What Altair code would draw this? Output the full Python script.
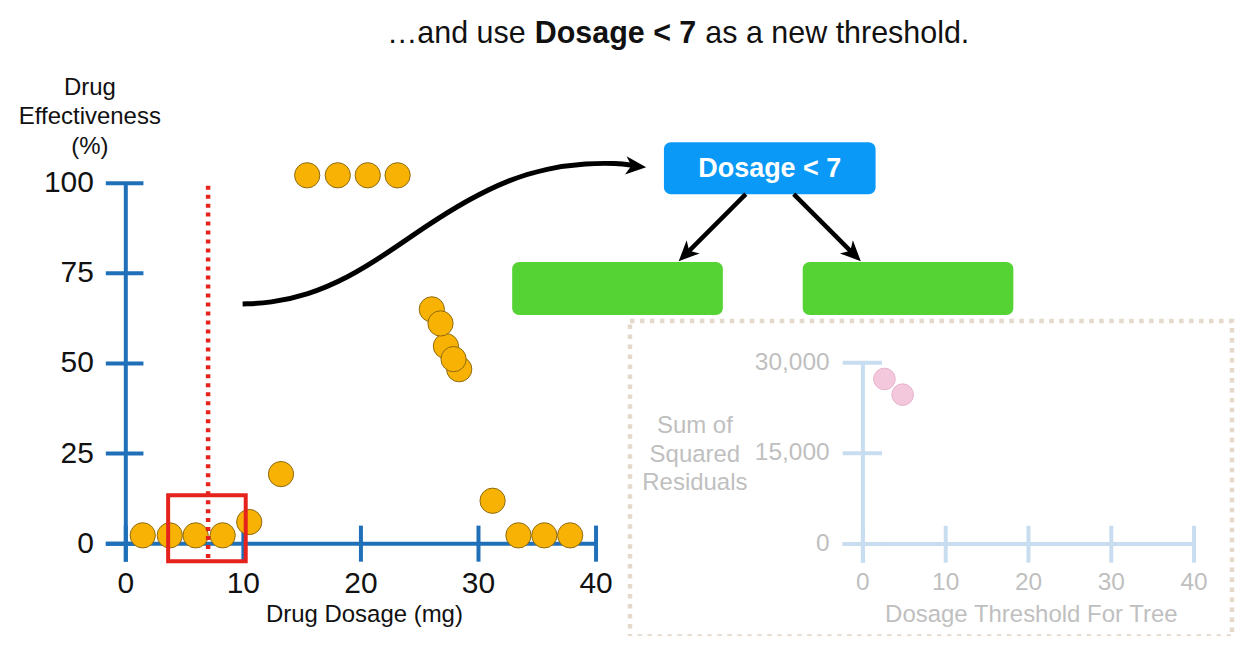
import altair as alt
import pandas as pd

# ---------------- data ----------------
dosage = [1.44, 3.74, 5.94, 8.24, 10.5, 13.2, 15.43, 18.03, 20.58, 23.12,
          26.03, 27.23, 28.36, 26.77, 27.88, 31.2, 33.4, 35.6, 37.8]
effectiveness = [2.3, 2.3, 2.3, 2.3, 6.0, 19.3, 102.2, 102.2, 102.2, 102.2,
                 65.0, 54.8, 48.4, 61.1, 51.2, 11.9, 2.3, 2.3, 2.3]
x_ticks = [0, 10, 20, 30, 40]
y_ticks = [0, 25, 50, 75, 100]
threshold = 7

ssr_thresholds = [2.6, 4.8]
ssr_values = [27300, 24700]
ssr_x_ticks = [0, 10, 20, 30, 40]
ssr_y_ticks = [0, 15000, 30000]

title_parts = ["\u2026and use", "Dosage < 7", "as a new threshold."]
node_label = "Dosage < 7"

# ---------------- styles ----------------
FONT = "Liberation Sans"
ORANGE, ORANGE_EDGE = "#F8B203", "#8E6A12"
AXIS_BLUE = "#1F70B8"
RED = "#E5221C"
NODE_BLUE = "#0A99F6"
LEAF_GREEN = "#55D334"
FADED_AXIS = "#C8DDEF"
FADED_TEXT = "#BFBFBF"
PINK, PINK_EDGE = "#F3C8DD", "#E6B3CA"
BORDER = "#E4D9CB"
ARROW = "M 1 0 L -1 -0.9 L -0.45 0 L -1 0.9 Z"

W, H = 1229, 628
MX = alt.Scale(domain=[0, 40], range=[118, 589], nice=False, zero=False)
MY = alt.Scale(domain=[0, 100], range=[536, 175], nice=False, zero=False)
IX = alt.Scale(domain=[0, 40], range=[856.3, 1188], nice=False, zero=False)
IY = alt.Scale(domain=[0, 30000], range=[536.3, 354.7], nice=False, zero=False)
PX = alt.Scale(domain=[0, W], range=[0, W], nice=False, zero=False)
PY = alt.Scale(domain=[0, H], range=[0, H], nice=False, zero=False)

one = pd.DataFrame({"k": [0]})
layers = []

# ---------------- inset (faded) ----------------
layers.append(alt.Chart(one).mark_rect(fillOpacity=0, stroke=BORDER, strokeWidth=4.5,
                                       strokeDash=[4.5, 5.5]).encode(
    x=alt.value(623), x2=alt.value(1226), y=alt.value(313), y2=alt.value(629)))

inset_rules = pd.DataFrame(
    [dict(x=0, x2=0, y=-3100, y2=30000), dict(x=-2.45, x2=40, y=0, y2=0)]
    + [dict(x=-2.45, x2=2.3, y=t, y2=t) for t in ssr_y_ticks]
    + [dict(x=t, x2=t, y=-3100, y2=3000) for t in ssr_x_ticks])
layers.append(alt.Chart(inset_rules).mark_rule(color=FADED_AXIS, strokeWidth=4).encode(
    x=alt.X("x:Q", scale=IX, axis=None), x2="x2:Q",
    y=alt.Y("y:Q", scale=IY, axis=None), y2="y2:Q"))

layers.append(alt.Chart(pd.DataFrame({"t": ssr_thresholds, "s": ssr_values})).mark_circle(
    size=470, color=PINK, stroke=PINK_EDGE, strokeWidth=1, opacity=1).encode(
    x=alt.X("t:Q", scale=IX, axis=None), y=alt.Y("s:Q", scale=IY, axis=None)))

layers.append(alt.Chart(pd.DataFrame({"y": ssr_y_ticks})).mark_text(
    align="right", baseline="middle", font=FONT, fontSize=24.5, color=FADED_TEXT).encode(
    x=alt.value(823), y=alt.Y("y:Q", scale=IY, axis=None), text=alt.Text("y:Q", format=",")))

layers.append(alt.Chart(pd.DataFrame({"x": ssr_x_ticks})).mark_text(
    align="center", baseline="middle", font=FONT, fontSize=24.5, color=FADED_TEXT).encode(
    x=alt.X("x:Q", scale=IX, axis=None), y=alt.value(575), text=alt.Text("x:Q")))

inset_titles = pd.DataFrame({"txt": ["Sum of", "Squared", "Residuals", "Dosage Threshold For Tree"],
                             "px": [688, 688, 688, 1025], "py": [418, 447, 475, 607]})
layers.append(alt.Chart(inset_titles).mark_text(
    align="center", baseline="middle", font=FONT, fontSize=24, color=FADED_TEXT).encode(
    x=alt.X("px:Q", scale=PX, axis=None), y=alt.Y("py:Q", scale=PY, axis=None), text="txt:N"))

# ---------------- tree ----------------
boxes = pd.DataFrame({"x": [657, 505, 796], "x2": [869, 716, 1007],
                      "y": [134, 254, 254], "y2": [186, 307, 307],
                      "c": [NODE_BLUE, LEAF_GREEN, LEAF_GREEN]})
layers.append(alt.Chart(boxes).mark_rect(cornerRadius=7).encode(
    x=alt.X("x:Q", scale=PX, axis=None), x2="x2:Q",
    y=alt.Y("y:Q", scale=PY, axis=None), y2="y2:Q",
    color=alt.Color("c:N", scale=None)))

layers.append(alt.Chart(one).mark_text(
    align="center", baseline="middle", font=FONT, fontSize=27, fontWeight="bold",
    color="white").encode(x=alt.value(763), y=alt.value(161), text=alt.value(node_label)))

tree_lines = pd.DataFrame({"x": [739, 787], "y": [186, 186], "x2": [679, 848], "y2": [246, 247]})
layers.append(alt.Chart(tree_lines).mark_rule(color="black", strokeWidth=4.5).encode(
    x=alt.X("x:Q", scale=PX, axis=None), x2="x2:Q",
    y=alt.Y("y:Q", scale=PY, axis=None), y2="y2:Q"))

# curved arrow (S-shaped connector)
curve = pd.DataFrame({
    "i": list(range(12)),
    "px": [235, 262, 300, 340, 380, 420, 460, 500, 540, 580, 610, 626],
    "py": [296, 295, 287, 270, 245, 217, 192, 172, 160, 155, 155, 157]})
layers.append(alt.Chart(curve).mark_line(interpolate="basis", color="black",
                                         strokeWidth=5).encode(
    x=alt.X("px:Q", scale=PX, axis=None), y=alt.Y("py:Q", scale=PY, axis=None), order="i:Q"))

heads = pd.DataFrame({"px": [629, 679, 847], "py": [158, 246, 246], "ang": [5, 135, 45]})
layers.append(alt.Chart(heads).mark_point(shape=ARROW, size=420, filled=True, color="black",
                                          opacity=1, strokeWidth=0).encode(
    x=alt.X("px:Q", scale=PX, axis=None), y=alt.Y("py:Q", scale=PY, axis=None),
    angle=alt.Angle("ang:Q", scale=None)))

# ---------------- main chart ----------------
main_rules = pd.DataFrame(
    [dict(x=0, x2=0, y=-5, y2=100), dict(x=-1.7, x2=40, y=0, y2=0)]
    + [dict(x=-1.7, x2=1.5, y=t, y2=t) for t in y_ticks]
    + [dict(x=t, x2=t, y=-5, y2=5) for t in x_ticks])
layers.append(alt.Chart(main_rules).mark_rule(color=AXIS_BLUE, strokeWidth=4).encode(
    x=alt.X("x:Q", scale=MX, axis=None), x2="x2:Q",
    y=alt.Y("y:Q", scale=MY, axis=None), y2="y2:Q"))

layers.append(alt.Chart(pd.DataFrame({"d": dosage, "e": effectiveness})).mark_circle(
    size=640, color=ORANGE, stroke=ORANGE_EDGE, strokeWidth=1, opacity=1).encode(
    x=alt.X("d:Q", scale=MX, axis=None), y=alt.Y("e:Q", scale=MY, axis=None)))

layers.append(alt.Chart(pd.DataFrame({"x": [threshold], "y": [-4], "y2": [99.5]})).mark_rule(
    color=RED, strokeWidth=4.5, strokeDash=[4, 5]).encode(
    x=alt.X("x:Q", scale=MX, axis=None),
    y=alt.Y("y:Q", scale=MY, axis=None), y2="y2:Q"))

layers.append(alt.Chart(pd.DataFrame({"x": [3.6], "x2": [10.2], "y": [13.4], "y2": [-4.9]})).mark_rect(
    fillOpacity=0, stroke=RED, strokeWidth=4).encode(
    x=alt.X("x:Q", scale=MX, axis=None), x2="x2:Q",
    y=alt.Y("y:Q", scale=MY, axis=None), y2="y2:Q"))

layers.append(alt.Chart(pd.DataFrame({"y": y_ticks})).mark_text(
    align="right", baseline="middle", font=FONT, fontSize=30, color="#111111").encode(
    x=alt.value(86), y=alt.Y("y:Q", scale=MY, axis=None), text=alt.Text("y:Q")))

layers.append(alt.Chart(pd.DataFrame({"x": x_ticks})).mark_text(
    align="center", baseline="middle", font=FONT, fontSize=30, color="#111111").encode(
    x=alt.X("x:Q", scale=MX, axis=None), y=alt.value(576), text=alt.Text("x:Q")))

main_titles = pd.DataFrame({"txt": ["Drug", "Effectiveness", "(%)", "Drug Dosage (mg)"],
                            "px": [82, 82, 82, 357], "py": [80, 109, 139, 607]})
layers.append(alt.Chart(main_titles).mark_text(
    align="center", baseline="middle", font=FONT, fontSize=24, color="#111111").encode(
    x=alt.X("px:Q", scale=PX, axis=None), y=alt.Y("py:Q", scale=PY, axis=None), text="txt:N"))

# ---------------- title ----------------
tc = 608.5
layers.append(alt.Chart(one).mark_text(align="right", baseline="middle", font=FONT,
                                       fontSize=30.5, color="#111111").encode(
    x=alt.value(tc - 90), y=alt.value(26), text=alt.value(title_parts[0])))
layers.append(alt.Chart(one).mark_text(align="center", baseline="middle", font=FONT,
                                       fontSize=30.5, fontWeight="bold", color="#111111").encode(
    x=alt.value(tc), y=alt.value(26), text=alt.value(title_parts[1])))
layers.append(alt.Chart(one).mark_text(align="left", baseline="middle", font=FONT,
                                       fontSize=30.5, color="#111111").encode(
    x=alt.value(tc + 90), y=alt.value(26), text=alt.value(title_parts[2])))

chart = alt.layer(*layers).resolve_scale(x="independent", y="independent").properties(
    width=W, height=H, padding=0, autosize=alt.AutoSizeParams(type="none"),
    background="white").configure_view(stroke=None)

chart.save("out.html", embed_options={"renderer": "svg", "actions": False})
